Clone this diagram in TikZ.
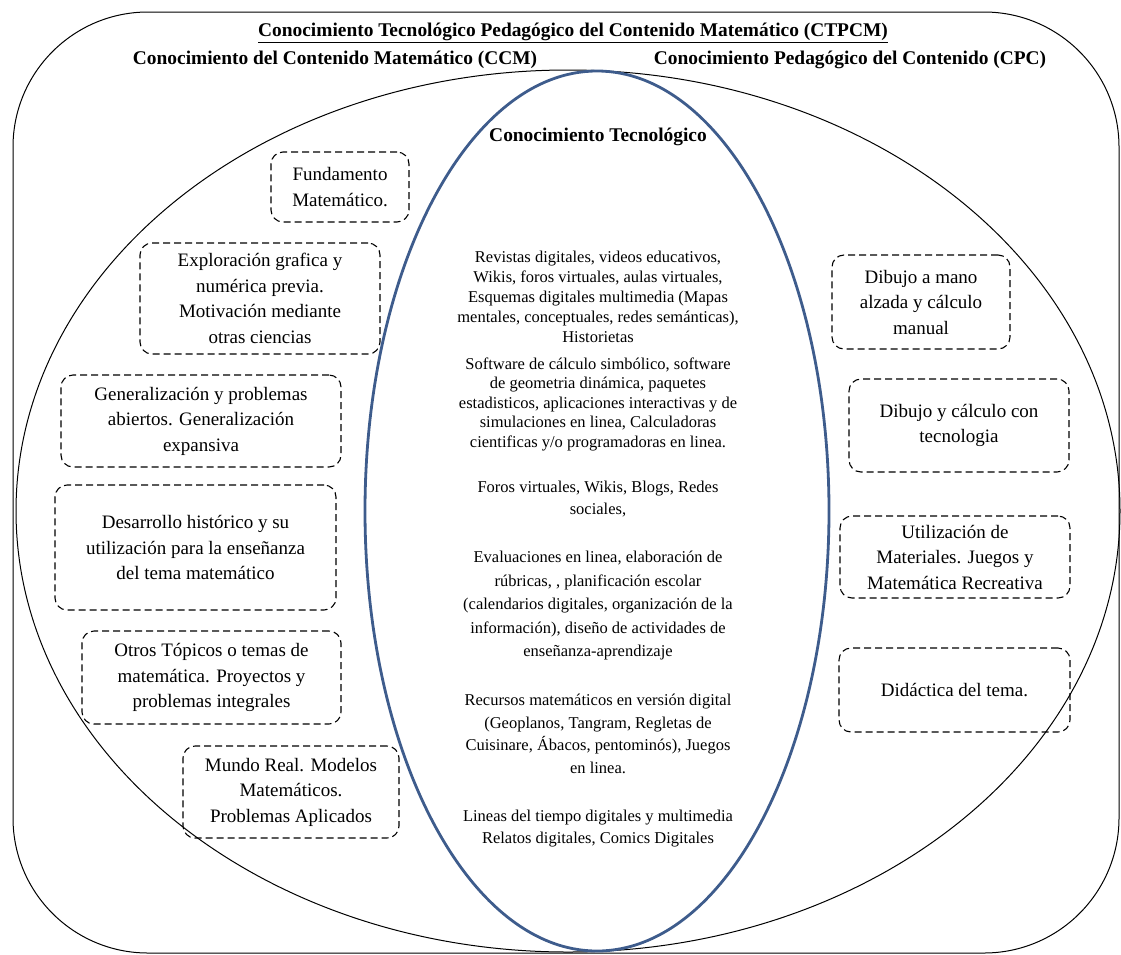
\documentclass[tikz,border=0pt]{standalone}
\usepackage{fontspec}
\setmainfont{Liberation Serif}
\definecolor{azulct}{RGB}{62,92,140}
\newcommand{\cajafont}{\fontsize{19}{25.5}\selectfont}
\newcommand{\ctfont}[1]{\fontsize{16.5}{#1}\selectfont}
\newcommand{\titfont}{\fontsize{19.4}{22}\selectfont\bfseries}
\begin{document}
\begin{tikzpicture}[x=1pt, y=-1pt, line width=1pt,
  caja/.style = {draw, dash pattern=on 7pt off 4pt, rounded corners=12pt, line width=1.1pt,
                 align=center, font=\cajafont, inner sep=0pt},
  ct/.style = {align=center, font=\ctfont{22}},
  tit/.style = {font=\titfont, inner sep=0pt}]
	\useasboundingbox (0,0) rectangle (1121,954);
	\draw[rounded corners=135pt] (13,12) rectangle (1119,953);
	\draw (568,511) ellipse [x radius=552, y radius=441];
	\draw[azulct, line width=2.8pt] (597,511) ellipse [x radius=232, y radius=440];
	\node[tit] at (573,33) (ctpcm) {\underline{Conocimiento Tecnológico Pedagógico del Contenido Matemático (CTPCM)}};
	\node[tit] at (335,60) (ccm) {Conocimiento del Contenido Matemático (CCM)};
	\node[tit] at (850,60) (cpc) {Conocimiento Pedagógico del Contenido (CPC)};
	\node[tit] at (598,137) (ct) {Conocimiento Tecnológico};
	\node[caja, minimum width=138, minimum height=70] at (340,187) (1) {Fundamento\\Matemático.};
	\node[caja, minimum width=240, minimum height=111] at (260,298.5) (2) {Exploración grafica y\\numérica previa.\\Motivación mediante\\otras ciencias};
	\node[caja, minimum width=280, minimum height=92] at (201,421) (3) {Generalización y problemas\\abiertos. Generalización\\expansiva};
	\node[caja, minimum width=281, minimum height=125] at (195.5,547.5) (4) {Desarrollo histórico y su\\utilización para la enseñanza\\del tema matemático};
	\node[caja, minimum width=259, minimum height=93] at (211.5,677.5) (5) {Otros Tópicos o temas de\\matemática. Proyectos y\\problemas integrales};
	\node[caja, minimum width=216, minimum height=92] at (291,792) (6) {Mundo Real. Modelos\\Matemáticos.\\Problemas Aplicados};
	\node[caja, minimum width=178, minimum height=94] at (921,302) (7) {Dibujo a mano\\alzada y cálculo\\manual};
	\node[caja, minimum width=220, minimum height=93] at (959,425.5) (8) {Dibujo y cálculo con\\tecnologia};
	\node[caja, minimum width=230, minimum height=82] at (955,557) (9) {Utilización de\\Materiales. Juegos y\\Matemática Recreativa};
	\node[caja, minimum width=231, minimum height=84] at (954.5,690) (10) {Didáctica del tema.};
	\node[ct, font=\ctfont{20}] at (598,297) (p1) {Revistas digitales, videos educativos,\\Wikis, foros virtuales, aulas virtuales,\\Esquemas digitales multimedia (Mapas\\mentales, conceptuales, redes semánticas),\\Historietas};
	\node[ct, font=\ctfont{19.5}] at (598,404) (p2) {Software de cálculo simbólico, software\\de geometria dinámica, paquetes\\estadisticos, aplicaciones interactivas y de\\simulaciones en linea, Calculadoras\\cientificas y/o programadoras en linea.};
	\node[ct] at (598,499) (p3) {Foros virtuales, Wikis, Blogs, Redes\\sociales,};
	\node[ct, font=\ctfont{23.5}] at (598,606) (p4) {Evaluaciones en linea, elaboración de\\rúbricas, , planificación escolar\\(calendarios digitales, organización de la\\información), diseño de actividades de\\enseñanza-aprendizaje};
	\node[ct, font=\ctfont{22.7}] at (598,734) (p5) {Recursos matemáticos en versión digital\\(Geoplanos, Tangram, Regletas de\\Cuisinare, Ábacos, pentominós), Juegos\\en linea.};
	\node[ct] at (598,829) (p6) {Lineas del tiempo digitales y multimedia\\Relatos digitales, Comics Digitales};
\end{tikzpicture}
\end{document}
